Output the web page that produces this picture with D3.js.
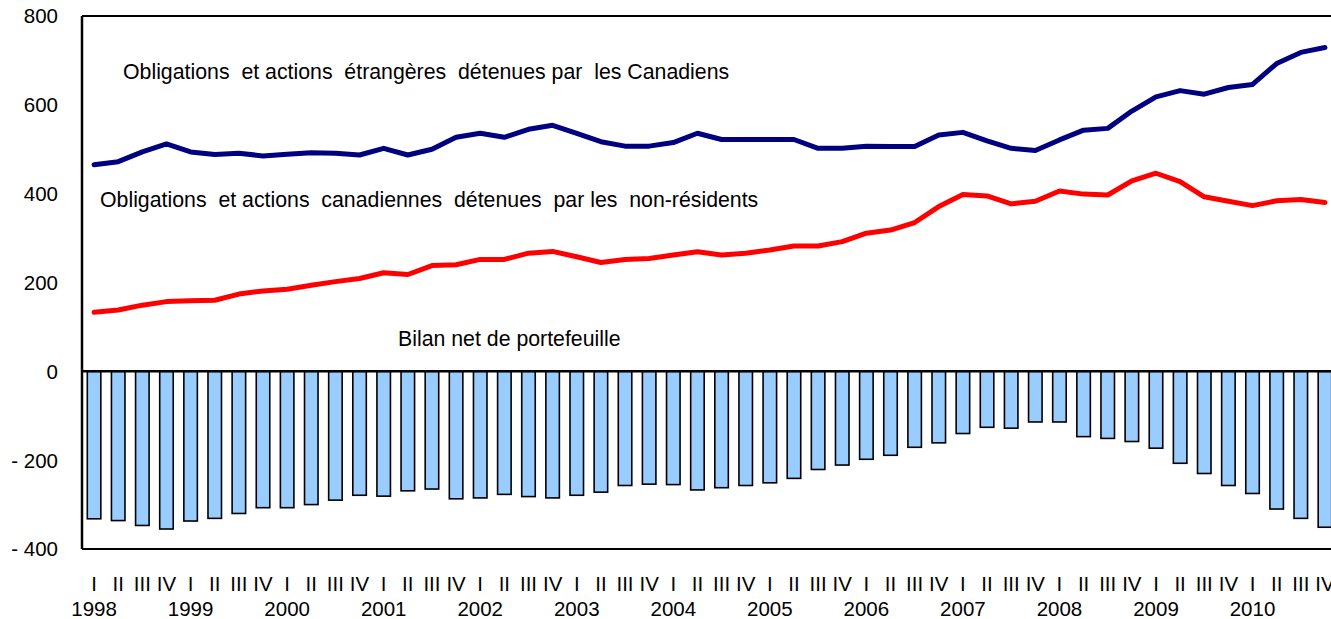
<!DOCTYPE html>
<html>
<head>
<meta charset="utf-8">
<script src="https://cdn.jsdelivr.net/npm/d3@7"></script>
<style>
  body { margin: 0; background: #fff; }
  text { font-family: "Liberation Sans", Arial, sans-serif; fill: #000; }
</style>
</head>
<body>
<div id="chart"></div>
<script>
// Years and quarters
var years = d3.range(1998, 2011);
var quarterNames = ["I", "II", "III", "IV"];
var quarters = [];
years.forEach(function (y) {
    quarterNames.forEach(function (q) { quarters.push(y + " " + q); });
});

// Obligations et actions étrangères détenues par les Canadiens
var foreignHeld = [465, 472, 494, 512, 494, 488, 491, 485, 489, 492, 491, 487,
                   502, 487, 500, 527, 536, 527, 545, 554, 536, 517, 507, 507,
                   515, 536, 522, 522, 522, 522, 502, 502, 507, 506, 506, 532,
                   538, 519, 502, 497, 521, 543, 547, 586, 618, 632, 624, 639,
                   646, 693, 718, 729];

// Obligations et actions canadiennes détenues par les non-résidents
var nonResidentHeld = [133, 138, 149, 157, 159, 160, 174, 181, 185, 194, 202, 209,
                       222, 218, 238, 240, 252, 252, 266, 270, 258, 245, 252, 254,
                       262, 269, 262, 266, 273, 282, 282, 292, 311, 318, 335, 371,
                       398, 395, 377, 383, 406, 399, 397, 429, 446, 427, 393, 383,
                       373, 384, 387, 380];

// Bilan net de portefeuille
var netBalance = [-332, -336, -347, -355, -337, -331, -320, -307, -307, -300, -290, -279,
                  -281, -269, -265, -287, -285, -277, -282, -285, -279, -272, -257, -254,
                  -255, -267, -262, -257, -251, -241, -221, -211, -198, -189, -171, -161,
                  -140, -126, -128, -114, -114, -147, -151, -158, -173, -207, -230, -257,
                  -275, -310, -331, -351];

var yTicks = [-400, -200, 0, 200, 400, 600, 800];

var width = 1331, height = 619;
var plotLeft = 82, plotRight = 1337, plotTop = 16, plotBottom = 549;

var svg = d3.select("#chart").append("svg")
    .attr("width", width)
    .attr("height", height);

var x = d3.scaleBand().domain(quarters).range([plotLeft, plotRight]).paddingInner(0.44).paddingOuter(0.22);
var xc = function (d) { return x(d) + x.bandwidth() / 2; };
var y = d3.scaleLinear().domain([-400, 800]).range([plotBottom, plotTop]);

// Bars
svg.append("g").selectAll("rect")
    .data(netBalance)
    .enter().append("rect")
    .attr("x", function (d, i) { return x(quarters[i]); })
    .attr("width", x.bandwidth())
    .attr("y", function (d) { return y(Math.max(0, d)); })
    .attr("height", function (d) { return Math.abs(y(d) - y(0)); })
    .attr("fill", "#99ccff")
    .attr("stroke", "#000")
    .attr("stroke-width", 1.6);

// Lines
var line = d3.line()
    .x(function (d, i) { return xc(quarters[i]); })
    .y(function (d) { return y(d); });

svg.append("path").datum(foreignHeld)
    .attr("d", line).attr("fill", "none")
    .attr("stroke", "#000080").attr("stroke-width", 5)
    .attr("stroke-linejoin", "round").attr("stroke-linecap", "round");

svg.append("path").datum(nonResidentHeld)
    .attr("d", line).attr("fill", "none")
    .attr("stroke", "#ff0000").attr("stroke-width", 5)
    .attr("stroke-linejoin", "round").attr("stroke-linecap", "round");

// Frame: top, left, bottom and zero line
svg.append("line").attr("x1", plotLeft).attr("x2", plotRight).attr("y1", plotTop).attr("y2", plotTop)
    .attr("stroke", "#000").attr("stroke-width", 2);
svg.append("line").attr("x1", plotLeft).attr("x2", plotLeft).attr("y1", plotTop).attr("y2", plotBottom)
    .attr("stroke", "#000").attr("stroke-width", 2.5);
svg.append("line").attr("x1", plotLeft).attr("x2", plotRight).attr("y1", plotBottom).attr("y2", plotBottom)
    .attr("stroke", "#000").attr("stroke-width", 2);
svg.append("line").attr("x1", plotLeft).attr("x2", plotRight).attr("y1", y(0)).attr("y2", y(0))
    .attr("stroke", "#000").attr("stroke-width", 2.5);

// Y axis labels
svg.append("g").selectAll("text")
    .data(yTicks)
    .enter().append("text")
    .attr("x", 58)
    .attr("y", function (d) { return y(d); })
    .attr("dy", "0.36em")
    .attr("text-anchor", "end")
    .attr("font-size", "20.5px")
    .style("white-space", "pre")
    .text(function (d) { return d < 0 ? "- " + Math.abs(d) : d; });

// X axis labels: quarters and years
svg.append("g").selectAll("text")
    .data(quarters)
    .enter().append("text")
    .attr("x", function (d) { return xc(d); })
    .attr("y", 591)
    .attr("text-anchor", "middle")
    .attr("font-size", "20.5px")
    .text(function (d) { return d.split(" ")[1]; });

svg.append("g").selectAll("text")
    .data(years)
    .enter().append("text")
    .attr("x", function (d) { return xc(d + " I"); })
    .attr("y", 616)
    .attr("text-anchor", "middle")
    .attr("font-size", "20.5px")
    .text(function (d) { return d; });

// Series labels
var labels = [
    { text: "Obligations  et actions  étrangères  détenues par  les Canadiens", x: 123, y: 79 },
    { text: "Obligations  et actions  canadiennes  détenues  par les  non-résidents", x: 100, y: 207 },
    { text: "Bilan net de portefeuille", x: 398, y: 346 }
];
svg.append("g").selectAll("text")
    .data(labels)
    .enter().append("text")
    .attr("x", function (d) { return d.x; })
    .attr("y", function (d) { return d.y; })
    .attr("font-size", "21.3px")
    .style("white-space", "pre")
    .text(function (d) { return d.text; });
</script>
</body>
</html>
